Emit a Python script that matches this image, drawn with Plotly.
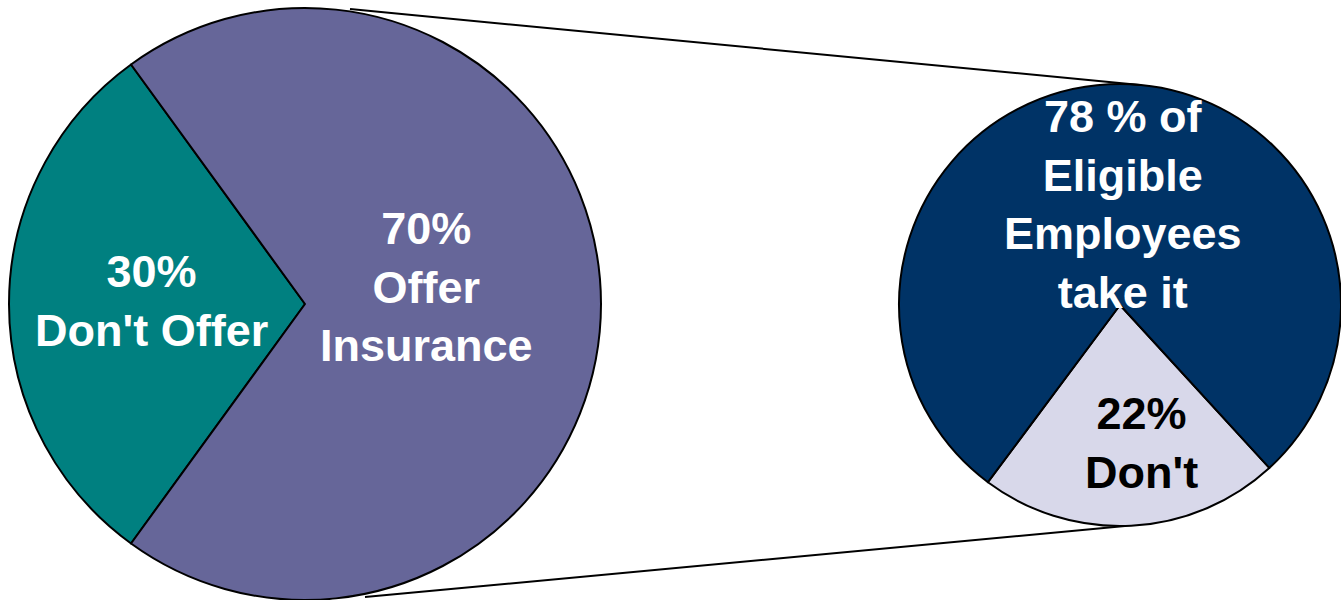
import plotly.graph_objects as go

# Share of firms that offer health insurance
firm_labels = ["Don't Offer", "Offer Insurance"]
firm_values = [30, 70]
firm_colors = ["#008080", "#666699"]

# Take-up among eligible employees at offering firms
emp_labels = ["Don't", "Take it"]
emp_values = [22, 78]
emp_colors = ["#D8D8EA", "#003366"]

W, H = 1341, 600

# pie geometry in pixels (centre x, centre y from top, radius)
L_CX, L_CY, L_R = 305, 304, 296
R_R = 221
R_CX, R_CY = W - R_R, 305


def px_x(x):
    return x / W


def px_y(y):
    return 1 - y / H


def domain(cx, cy, r):
    return dict(
        x=[max(0, (cx - r) / W), min(1, (cx + r) / W)],
        y=[max(0, (H - cy - r) / H), min(1, (H - cy + r) / H)],
    )


fig = go.Figure()

fig.add_trace(go.Pie(
    labels=firm_labels, values=firm_values, sort=False,
    direction="clockwise", rotation=216,
    marker=dict(colors=firm_colors, line=dict(color="black", width=2)),
    textinfo="none", hoverinfo="label+percent", showlegend=False,
    domain=domain(L_CX, L_CY, L_R),
))

fig.add_trace(go.Pie(
    labels=emp_labels, values=emp_values, sort=False,
    direction="clockwise", rotation=137.5,
    marker=dict(colors=emp_colors, line=dict(color="black", width=2)),
    textinfo="none", hoverinfo="label+percent", showlegend=False,
    domain=domain(R_CX, R_CY, R_R),
))

FONT = "Liberation Sans, Arial, sans-serif"
FS = 45

labels = [
    (f"<b>{firm_values[0]}%<br>Don't Offer</b>", L_CX - 154, L_CY - 3, "white"),
    (f"<b>{firm_values[1]}%<br>Offer<br>Insurance</b>", L_CX + 121, L_CY - 17, "white"),
    (f"<b>{emp_values[1]} % of<br>Eligible<br>Employees<br>take it</b>", R_CX + 3, R_CY - 101, "white"),
    (f"<b>{emp_values[0]}%<br>Don't</b>", R_CX + 21, R_CY + 138, "black"),
]
for text, x, y, color in labels:
    fig.add_annotation(
        text=text, x=px_x(x), y=px_y(y), xref="paper", yref="paper",
        xanchor="center", yanchor="middle", showarrow=False,
        font=dict(family=FONT, size=FS, color=color),
    )

# connector lines from the big pie to the zoomed pie
connectors = [
    ((350, 9), (R_CX + 20, R_CY - R_R + 1)),
    ((365, 597), (R_CX + 5, R_CY + R_R)),
]
for (x0, y0), (x1, y1) in connectors:
    fig.add_shape(
        type="line", xref="paper", yref="paper",
        x0=px_x(x0), y0=px_y(y0), x1=px_x(x1), y1=px_y(y1),
        line=dict(color="black", width=2),
    )

fig.update_layout(
    width=W, height=H,
    margin=dict(l=0, r=0, t=0, b=0),
    paper_bgcolor="white", plot_bgcolor="white",
)

fig.write_html("out.html")
